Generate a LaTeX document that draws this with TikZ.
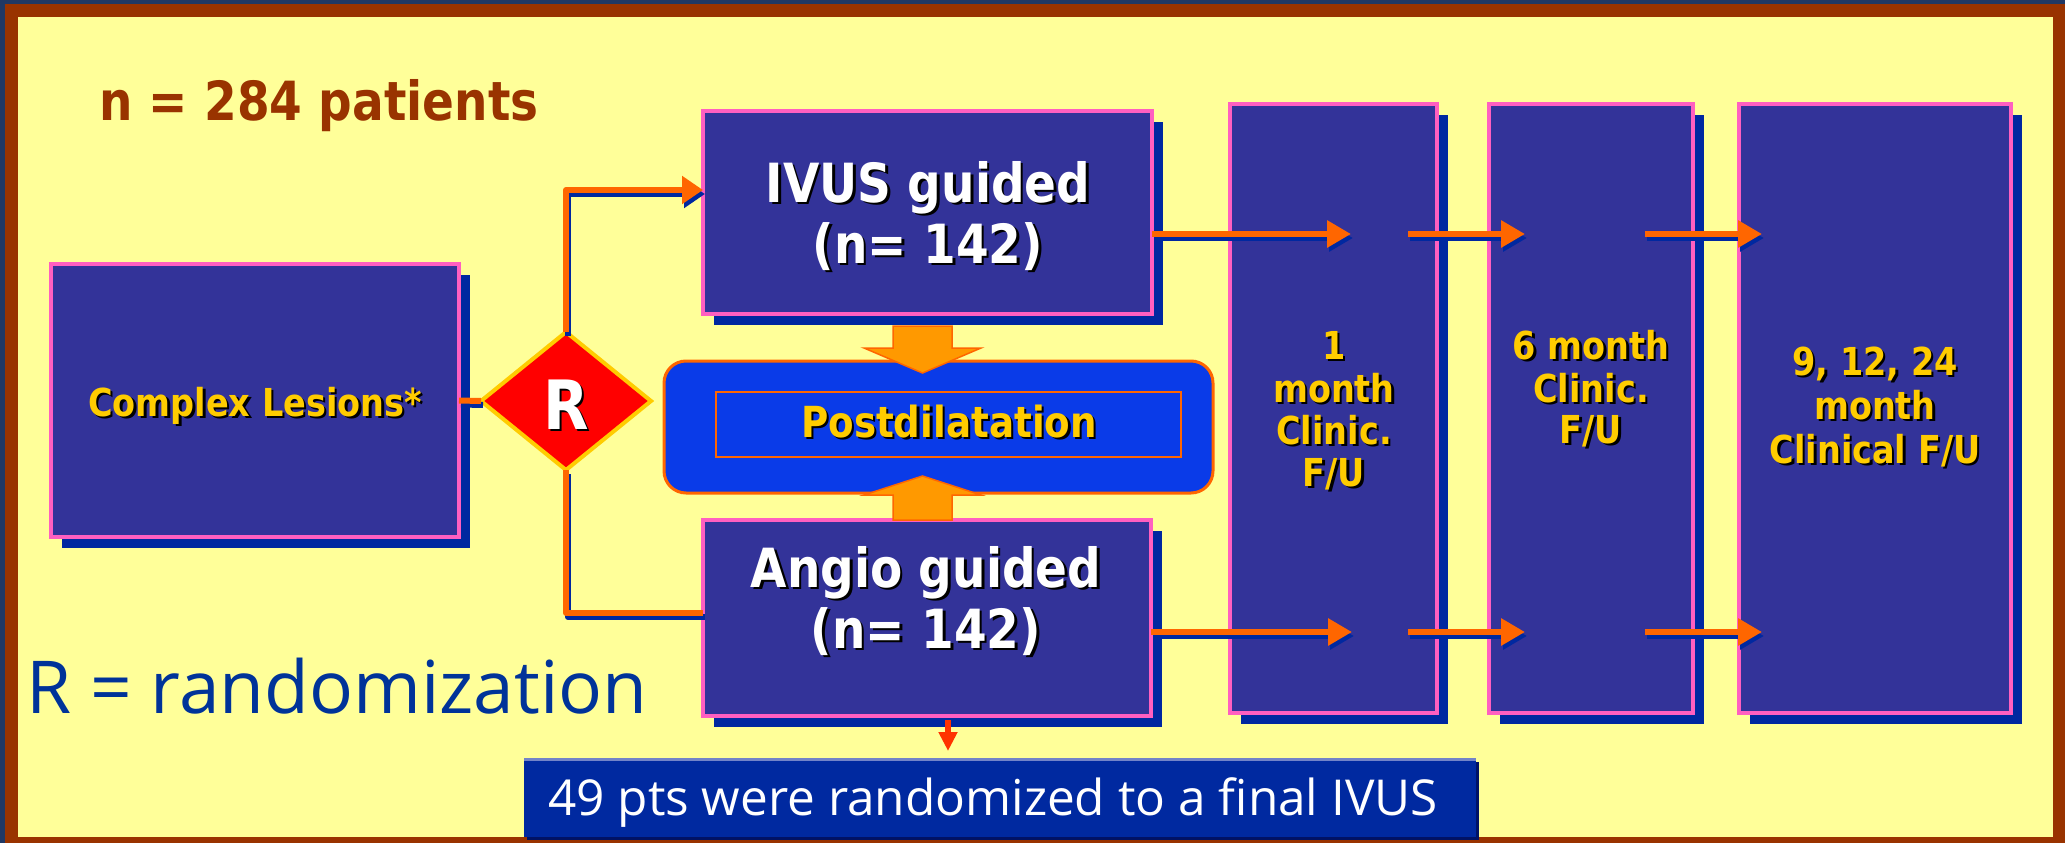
\documentclass[tikz,border=0pt]{standalone}
\usepackage{fontspec}
\usetikzlibrary{shapes.geometric,arrows.meta,calc,shadows}
\newfontfamily\tah{DejaVu Sans}[FakeStretch=0.87]
\newfontfamily\comic{Open Sans}
\definecolor{navybg}{HTML}{203864}
\definecolor{framec}{HTML}{993300}
\definecolor{paper}{HTML}{FFFF99}
\definecolor{boxfill}{HTML}{333399}
\definecolor{boxpink}{HTML}{FF5FC0}
\definecolor{shblue}{HTML}{0028A0}
\definecolor{gold}{HTML}{FFCC00}
\definecolor{orng}{HTML}{FF6600}
\definecolor{amber}{HTML}{FF9900}
\definecolor{postblue}{HTML}{0A3BE8}
\definecolor{rblue}{HTML}{003399}
\definecolor{notefill}{HTML}{0029A0}
\definecolor{notehi}{HTML}{7384C8}
\definecolor{noteshadow}{HTML}{001266}
\definecolor{redarr}{HTML}{FF3300}
\newcommand\shd[2]{\makebox[0pt][l]{\hspace{2.5pt}\raisebox{-2.5pt}{\color{black}#2}}{\color{#1}#2}}
\newcommand\allconns{%
  \draw[conn] (complex.east) -- (dia.west);
  \draw[conn,-{Triangle[length=21pt,width=27pt]}] (dia.north) |- (ivin);
  \draw[conn] (dia.south) |- (anin);
  \draw[conn,-{Triangle[length=24pt,width=26pt]}] (t1s) -- (t1e);
  \draw[conn,-{Triangle[length=24pt,width=26pt]}] (t2s) -- (t2e);
  \draw[conn,-{Triangle[length=24pt,width=26pt]}] (t3s) -- (t3e);
  \draw[conn,-{Triangle[length=24pt,width=26pt]}] (b1s) -- (b1e);
  \draw[conn,-{Triangle[length=24pt,width=26pt]}] (b2s) -- (b2e);
  \draw[conn,-{Triangle[length=24pt,width=26pt]}] (b3s) -- (b3e);
}
\begin{document}
\begin{tikzpicture}[x=1pt,y=-1pt,
  every node/.style={inner sep=0pt,outer sep=0pt},
  bluebox/.style={rectangle,fill=boxfill,draw=boxpink,line width=4pt,
    drop shadow={shadow xshift=11pt,shadow yshift=-11pt,fill=shblue,opacity=1}},
  bigtext/.style={anchor=base,font=\tah\bfseries\fontsize{54}{60}\selectfont},
  coltext/.style={anchor=base,font=\tah\bfseries\fontsize{38.5}{42}\selectfont},
  conn/.style={draw=orng,line width=6pt,line join=round},
  blockarr/.style={fill=amber,draw=orng,line width=1.5pt,line join=miter}]
\useasboundingbox (0,0) rectangle (2065,843);
\fill[navybg] (0,0) rectangle (2065,843);
\fill[framec] (5,4) rectangle (2065,843);
\fill[paper] (18,17) rectangle (2053,837);

% title
\node[anchor=base west,font=\tah\bfseries\fontsize{54}{60}\selectfont,text=framec] (title) at (99,121) {n = 284 patients};

% complex lesions
\node[bluebox,minimum width=408pt,minimum height=273pt] (complex) at (255,400.5) {};
\node[anchor=base,font=\tah\bfseries\fontsize{38.5}{42}\selectfont] (complext) at (255,416) {\shd{gold}{Complex Lesions*}};

% randomization diamond
\node[diamond,fill=red,draw=gold,line width=4pt,minimum width=170pt,minimum height=138pt] (dia) at (566,401) {};
\node[anchor=base,font=\tah\bfseries\fontsize{68}{70}\selectfont] (rlab) at ($(dia.center)+(0,28)$) {\shd{white}{R}};

% postdilatation
\node[draw=orng,line width=3pt,fill=postblue,rounded corners=22pt,minimum width=549pt,minimum height=132pt] (post) at (938.5,427) {};
\node[draw=orng,line width=1.5pt,minimum width=465pt,minimum height=65pt] (postin) at (948.5,424.5) {};
\node[anchor=base,font=\tah\bfseries\fontsize{42.8}{46}\selectfont] (postt) at (949,437) {\shd{gold}{Postdilatation}};

% IVUS / Angio
\node[bluebox,minimum width=449pt,minimum height=203pt] (ivus) at (927.5,212.5) {};
\node[bigtext] (ivust1) at (928,202) {\shd{white}{IVUS guided}};
\node[bigtext] (ivust2) at (928,263) {\shd{white}{(n= 142)}};
\node[bluebox,minimum width=448pt,minimum height=196pt] (angio) at (927,618) {};
\node[bigtext] (angiot1) at (926,587) {\shd{white}{Angio guided}};
\node[bigtext] (angiot2) at (926,648) {\shd{white}{(n= 142)}};

% follow-up columns
\node[bluebox,minimum width=207pt,minimum height=609pt] (c1) at (1333.5,408.5) {};
\node[bluebox,minimum width=204pt,minimum height=609pt] (c6) at (1591,408.5) {};
\node[bluebox,minimum width=272pt,minimum height=609pt] (c9) at (1875,408.5) {};
\node[coltext] (c1a) at (1334,359) {\shd{gold}{1}};
\node[coltext] (c1b) at (1334,402) {\shd{gold}{month}};
\node[coltext] (c1c) at (1334,444) {\shd{gold}{Clinic.}};
\node[coltext] (c1d) at (1334,486) {\shd{gold}{F/U}};
\node[coltext] (c6a) at (1591,359) {\shd{gold}{6 month}};
\node[coltext] (c6b) at (1591,402) {\shd{gold}{Clinic.}};
\node[coltext] (c6c) at (1591,443) {\shd{gold}{F/U}};
\node[coltext] (c9a) at (1875,375) {\shd{gold}{9, 12, 24}};
\node[coltext] (c9b) at (1875,419) {\shd{gold}{month}};
\node[coltext] (c9c) at (1875,463) {\shd{gold}{Clinical F/U}};

% legend
\node[anchor=base west,font=\comic\fontsize{73}{76}\selectfont,text=rblue] (legend) at (26,713) {R = randomization};

% note box
\node[fill=notefill,minimum width=952pt,minimum height=78pt,
  drop shadow={shadow xshift=3pt,shadow yshift=-3pt,fill=noteshadow,opacity=1}] (note) at (1000,798) {};
\draw[notehi,line width=3pt] (note.north west) -- (note.north east);
\node[anchor=base,font=\comic\fontsize{49.5}{52}\selectfont,text=white] (notet) at (993,815) {49 pts were randomized to a final IVUS};

% coordinates for connectors
\coordinate (ivin) at ($(ivus.west)+(0,-22.5)$);
\coordinate (anin) at ($(angio.west)+(0,-5)$);
\coordinate (t1s) at ($(ivus.east)+(0,21.5)$);
\coordinate (t1e) at (1351,234);
\coordinate (t2s) at (1408,234);
\coordinate (t2e) at (1525,234);
\coordinate (t3s) at (1645,234);
\coordinate (t3e) at (1762,234);
\coordinate (b1s) at ($(angio.east)+(0,14)$);
\coordinate (b1e) at (1352,632);
\coordinate (b2s) at (1408,632);
\coordinate (b2e) at (1525,632);
\coordinate (b3s) at (1645,632);
\coordinate (b3e) at (1762,632);

\begin{scope}[transform canvas={shift={(2pt,-4pt)}},conn/.append style={draw=shblue}]
\allconns
\end{scope}
\allconns

% block arrows to postdilatation
\path[blockarr] ($(ivus.south)+(-34.5,12)$) -- ++(0,22) -- ++(-29,0) -- ++(58.5,25) -- ++(58.5,-25) -- ++(-29,0) -- ++(0,-22) -- cycle;
\path[blockarr] ($(angio.north)+(-34,0)$) -- ++(0,-25) -- ++(-29,0) -- ++(58.5,-19) -- ++(58.5,19) -- ++(-29,0) -- ++(0,25) -- cycle;

% small red arrow
\draw[redarr,line width=6pt,-{Triangle[length=19pt,width=18pt]}] ($(angio.south)+(21,4)$) -- ($(note.north)+(-52,-8)$);
\end{tikzpicture}
\end{document}
